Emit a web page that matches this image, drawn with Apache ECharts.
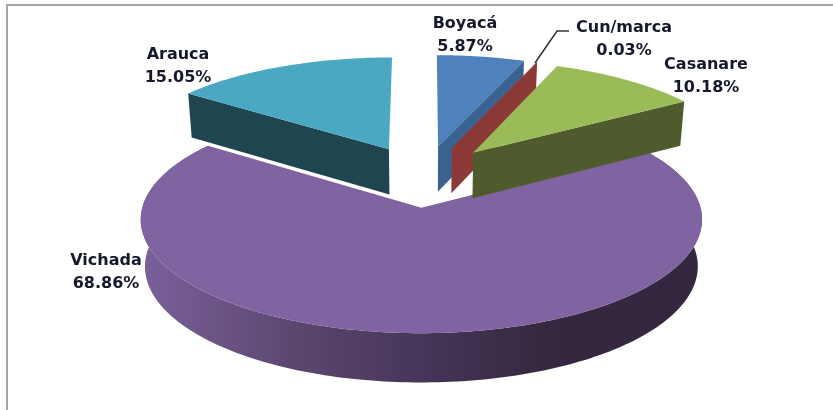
<!DOCTYPE html>
<html>
<head>
<meta charset="utf-8">
<style>
  html, body { margin: 0; padding: 0; background: #fff; }
  #box { width: 833px; height: 410px; }
</style>
</head>
<body>
<div id="box"></div>
<script src="https://cdn.jsdelivr.net/npm/echarts@6/dist/echarts.min.js"></script>
<script>
// datos
var categories = ["Boyacá", "Cun/marca", "Casanare", "Vichada", "Arauca"];
var values = [5.87, 0.03, 10.18, 68.86, 15.05];
var labels = ["5.87%", "0.03%", "10.18%", "68.86%", "15.05%"];

// colores: cara superior y cara lateral
var topColors = ["#4F81BD", "#C0504D", "#9BBB59", "#8064A2", "#4AA8C3"];
var sideColors = ["#3A6290", "#8C3A38", "#4F5B2D", "#5E4872", "#1F4550"];

// orden de pintado, lo de atras primero
var drawOrder = [3, 4, 0, 1, 2];
// centro de cada etiqueta
var labelCenters = [[465, 35.5], [624, 39.5], [706, 76], [106, 272], [178, 66]];

// perspectiva del pastel
var cx = 424, cy = 176, R = 271, B = 106, k = 0.1;
var explode = 0.2915, thick = 46, bottomScale = 0.985;

var total = values.reduce(function (a, b) { return a + b; }, 0);
var starts = [];
values.reduce(function (acc, v, i) { starts[i] = acc; return acc + v; }, 0);

// disco (u, v) a pantalla
function project(u, v, bottom) {
  var w = 1 - k * v;
  if (bottom) {
    return [cx + bottomScale * R * u / w, cy + B * v / w + thick / Math.sqrt(w)];
  }
  return [cx + R * u / w, cy + B * v / w];
}

function renderSlice(params, api) {
  var i = api.value(0);
  var a0 = api.value(2) / total * Math.PI * 2;
  var a1 = (api.value(2) + api.value(1)) / total * Math.PI * 2;
  var mid = (a0 + a1) / 2;
  var ou = explode * Math.sin(mid), ov = -explode * Math.cos(mid);

  var arc = [];
  var n = Math.max(2, Math.ceil((a1 - a0) / 0.02));
  for (var j = 0; j <= n; j++) {
    var t = a0 + (a1 - a0) * j / n;
    arc.push([ou + Math.sin(t), ov - Math.cos(t)]);
  }
  function pts(list, bottom) {
    return list.map(function (p) { return project(p[0], p[1], bottom); });
  }
  var arcTop = pts(arc, false), arcBottom = pts(arc, true);
  var apexTop = project(ou, ov, false), apexBottom = project(ou, ov, true);

  var children = [];

  // solo Vichada muestra su pared curva, con degradado como en el original
  if (i === 3) {
    children.push({
      type: "polygon",
      shape: { points: arcTop.concat(arcBottom.slice().reverse()) },
      style: {
        fill: new echarts.graphic.LinearGradient(141, 0, 703, 0, [
          { offset: 0, color: "#7A609B" },
          { offset: 0.28, color: "#5B466E" },
          { offset: 0.5, color: "#46365A" },
          { offset: 0.64, color: "#3A2D48" },
          { offset: 0.75, color: "#33283F" },
          { offset: 1, color: "#33283F" }
        ], true)
      }
    });
  }
  // paredes radiales que miran hacia el frente
  if (Math.sin(a0) < -0.001) {
    children.push({ type: "polygon", shape: { points: [apexTop, arcTop[0], arcBottom[0], apexBottom] }, style: { fill: sideColors[i] } });
  }
  if (Math.sin(a1) > 0.001) {
    children.push({ type: "polygon", shape: { points: [apexTop, arcTop[n], arcBottom[n], apexBottom] }, style: { fill: sideColors[i] } });
  }
  children.push({ type: "polygon", shape: { points: [apexTop].concat(arcTop) }, style: { fill: topColors[i] } });
  children.push({
    type: "text",
    z2: 10,
    style: {
      x: labelCenters[i][0],
      y: labelCenters[i][1],
      text: categories[i] + "\n" + labels[i],
      fill: "#15192B",
      font: "bold 16px 'DejaVu Sans'",
      lineHeight: 23,
      align: "center",
      verticalAlign: "middle"
    }
  });

  // linea guia de Cun/marca
  if (i === 1) {
    children.push({
      type: "polyline",
      z2: 10,
      shape: { points: [[535, 63], [557, 31], [569, 31]] },
      style: { stroke: "#333", lineWidth: 1.5, fill: null }
    });
  }
  return { type: "group", children: children };
}

var myCharts = echarts.init(document.getElementById("box"));
var option = {
  animation: false,
  backgroundColor: "#fff",
  graphic: [
    { type: "line", shape: { x1: 6, y1: 5, x2: 833, y2: 5 }, style: { stroke: "#A6A6A6", lineWidth: 2 } },
    { type: "line", shape: { x1: 7, y1: 5, x2: 7, y2: 410 }, style: { stroke: "#A6A6A6", lineWidth: 2 } }
  ],
  series: [
    {
      type: "custom",
      coordinateSystem: "none",
      renderItem: renderSlice,
      data: drawOrder.map(function (i) { return [i, values[i], starts[i]]; })
    }
  ]
};
myCharts.setOption(option);
</script>
</body>
</html>
